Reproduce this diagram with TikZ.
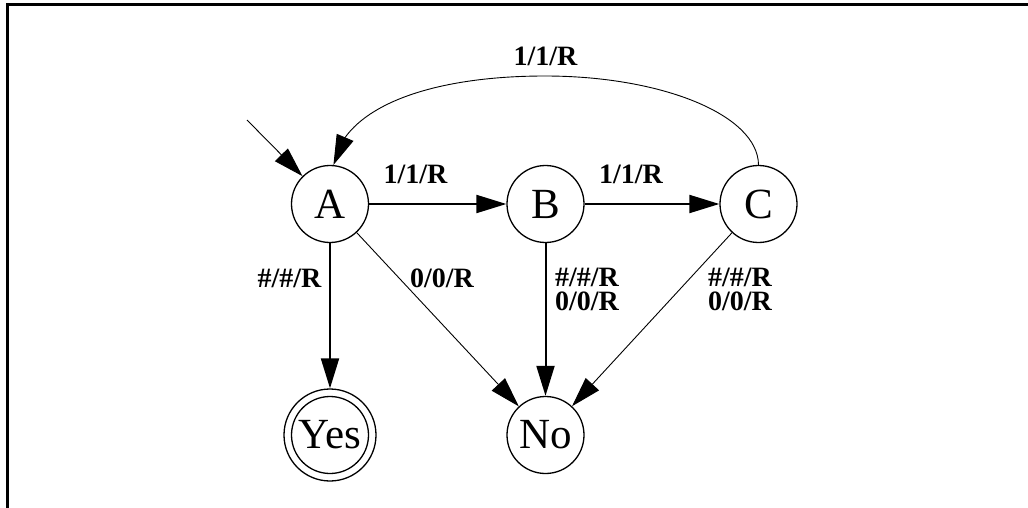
\documentclass[tikz,border=0pt]{standalone}
\usepackage{fontspec}
\setmainfont{Liberation Serif}
\usetikzlibrary{arrows.meta,bending}
\begin{document}
\begin{tikzpicture}[x=1pt,y=-1pt,
  state/.style={circle,draw,line width=1.3pt,minimum size=77pt,inner sep=0pt,
    font=\fontsize{43}{43}\selectfont},
  finalstate/.style={state,minimum size=92pt},
  lbl/.style={inner sep=0pt,anchor=base,font=\fontsize{28}{28}\selectfont\bfseries},
  lbltwo/.style={inner sep=0pt,anchor=north,align=center,
    font=\fontsize{28}{24.3}\selectfont\bfseries},
  tip/.style={-{Triangle[length=30pt,width=18pt]}},
  heavy/.style={tip,line width=2pt},
  light/.style={tip,line width=0.9pt}]
\useasboundingbox (0,0) rectangle (1028,508);
% open frame along the left and top
\draw[line width=3pt] (7,510) -- (7,5) -- (1030,5);

% states
\node[state] (A) at (330,204) {A};
\node[state] (B) at (545.5,204) {B};
\node[state] (C) at (758.5,204) {C};
\node[finalstate] (Yes) at (330,435) {Yes};
\draw[line width=1.3pt] (Yes.center) circle (38.5);
\node[state] (No) at (545.5,435) {No};

% start arrow
\coordinate (start) at (247,120);
\draw[light] (start) -- (A);

% transitions
\draw[heavy] (A) -- (B);
\draw[heavy] (B) -- (C);
\draw[heavy] (A) -- (Yes);
\draw[heavy] (B) -- (No);
\draw[light] (A) -- (No);
\draw[light] (C) -- (No);
\draw[light] (C.north) .. controls (758,115) and (662,76) .. (545,76)
  .. controls (428,76) and (343,108) .. (A.85);

% transition labels
\node[lbl] (lCA) at (545.5,66) {1/1/R};
\node[lbl] (lAB) at (415.5,183) {1/1/R};
\node[lbl] (lBC) at (631,183) {1/1/R};
\node[lbl] (lAY) at (289.5,287) {\#/\#/R};
\node[lbl] (lAN) at (442,287) {0/0/R};
\node[lbltwo] (lBN) at (587,267.5) {\#/\#/R\\0/0/R};
\node[lbltwo] (lCN) at (740,267.5) {\#/\#/R\\0/0/R};
\end{tikzpicture}
\end{document}
